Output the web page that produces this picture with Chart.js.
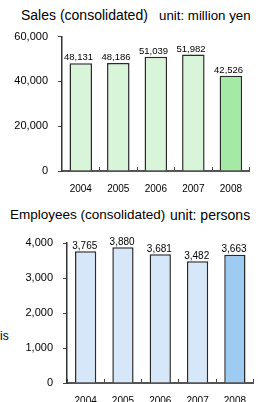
<!DOCTYPE html>
<html><head><meta charset="utf-8">
<script src="https://cdn.jsdelivr.net/npm/chart.js@4/dist/chart.umd.min.js"></script>
<style>
html,body{margin:0;padding:0;background:#fff;width:258px;height:402px;overflow:hidden;position:relative;font-family:"Liberation Sans",Arial,sans-serif;color:#000}
.t{position:absolute;line-height:1;white-space:nowrap}
canvas{position:absolute;left:0}
</style></head><body>
<div class="t" style="left:21px;top:8px;font-size:14px">Sales (consolidated)</div>
<div class="t" style="left:159px;top:9px;font-size:13.3px">unit: million yen</div>
<div class="t" style="left:10px;top:208px;font-size:13.5px">Employees (consolidated)</div>
<div class="t" style="left:170px;top:208px;font-size:14px">unit: persons</div>
<div class="t" style="left:0px;top:330px;font-size:12px">is</div>
<canvas id="c1" width="258" height="180" style="top:20px"></canvas>
<canvas id="c2" width="262" height="177" style="top:225px"></canvas>
<script>
const years = ['2004', '2005', '2006', '2007', '2008'];
const salesValues = [48131, 48186, 51039, 51982, 42526];
const employeeValues = [3765, 3880, 3681, 3482, 3663];
const salesTicks = [0, 20000, 40000, 60000];
const employeeTicks = [0, 1000, 2000, 3000, 4000];
const salesColors = ['#d9f5d9', '#d9f5d9', '#d9f5d9', '#d9f5d9', '#a4e9a4'];
const employeeColors = ['#d5e7f8', '#d5e7f8', '#d5e7f8', '#d5e7f8', '#9dcbf1'];

Chart.defaults.font.family = '"Liberation Sans", Arial, sans-serif';
Chart.defaults.color = '#000';

function fmt(v) { return Number(v).toLocaleString('en-US'); }

function labelPlugin(fontSize, gap) {
  return {
    id: 'valueLabels',
    afterDatasetsDraw(chart) {
      const ctx = chart.ctx;
      const meta = chart.getDatasetMeta(0);
      const data = chart.data.datasets[0].data;
      ctx.save();
      ctx.font = fontSize + 'px "Liberation Sans", Arial, sans-serif';
      ctx.fillStyle = '#000';
      ctx.textAlign = 'right';
      ctx.textBaseline = 'alphabetic';
      meta.data.forEach((bar, i) => {
        ctx.fillText(fmt(data[i]), bar.x + bar.width / 2 + 1, bar.y - gap);
      });
      ctx.restore();
    }
  };
}

function makeChart(id, values, colors, ticks, maxV, axisW, xH, padTop, lblSize, gap, barPct) {
  return new Chart(document.getElementById(id), {
    type: 'bar',
    data: {
      labels: years,
      datasets: [{
        data: values,
        backgroundColor: colors,
        borderColor: '#2a2a2a',
        borderWidth: 1.5,
        borderSkipped: 'bottom',
        barPercentage: barPct,
        categoryPercentage: 1
      }]
    },
    options: {
      responsive: false,
      animation: false,
      devicePixelRatio: 1,
      layout: { padding: { top: padTop, left: 0, right: 0, bottom: 0 } },
      plugins: { legend: { display: false }, tooltip: { enabled: false } },
      scales: {
        x: {
          offset: true,
          grid: { display: true, drawOnChartArea: false, drawTicks: true, tickLength: -4, offset: true, color: '#444', lineWidth: 1 },
          border: { display: true, color: '#555', width: 2 },
          ticks: { font: { size: 10 }, padding: 16, maxRotation: 0, autoSkip: false },
          afterFit(s) { s.height = xH; }
        },
        y: {
          min: 0, max: maxV,
          grid: { display: true, drawOnChartArea: false, drawTicks: true, tickLength: 4, color: '#444', lineWidth: 1 },
          border: { display: true, color: '#333', width: 1.5 },
          ticks: { font: { size: 11 }, padding: 10, callback: v => fmt(v) },
          afterBuildTicks(s) { s.ticks = ticks.map(v => ({ value: v })); },
          afterFit(s) { s.width = axisW; }
        }
      }
    },
    plugins: [labelPlugin(lblSize, gap)]
  });
}

makeChart('c1', salesValues, salesColors, salesTicks, 60000, 62, 29, 13, 9.5, 3, 0.6);
makeChart('c2', employeeValues, employeeColors, employeeTicks, 4000, 67, 19, 18, 10, 2.5, 0.57);
</script>
</body></html>
